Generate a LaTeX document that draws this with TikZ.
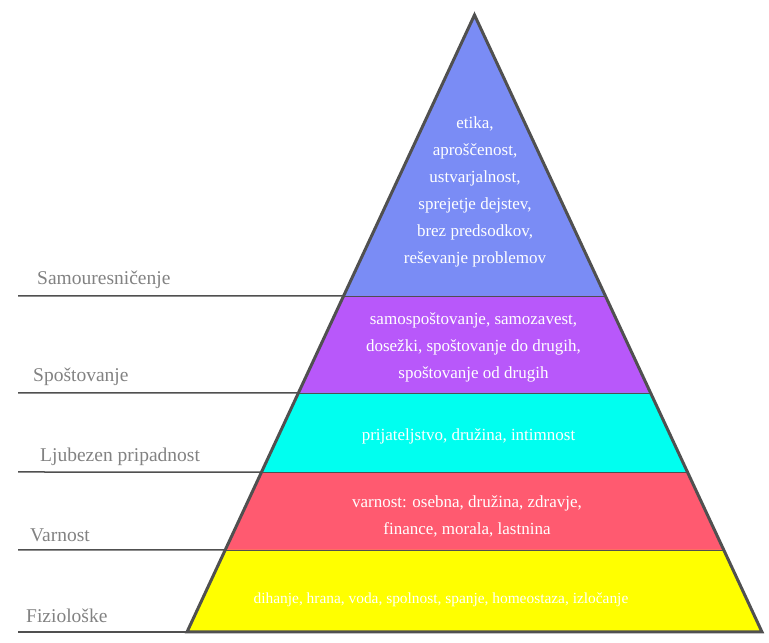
\documentclass[tikz,border=0pt]{standalone}
\usepackage{fontspec}
\setmainfont{Liberation Serif}
\usetikzlibrary{calc}
\definecolor{cblue}{RGB}{122,140,245}
\definecolor{cpurple}{RGB}{184,88,250}
\definecolor{ccyan}{RGB}{0,255,240}
\definecolor{cred}{RGB}{255,90,112}
\definecolor{cyellow}{RGB}{255,255,0}
\definecolor{cedge}{RGB}{80,80,80}
\definecolor{clabel}{RGB}{130,130,130}
\tikzset{
  inner/.style={text=white, align=center, inner sep=0pt, font=\fontsize{17}{27}\selectfont},
  lvl/.style={text=clabel, anchor=base west, inner sep=0pt, font=\fontsize{19.5}{22}\selectfont},
  guide/.style={draw=cedge, line width=1.5pt},
  seam/.style={draw=cedge, line width=0.8pt},
  outline/.style={draw=cedge, line width=3pt, line join=miter}
}
\begin{document}
\begin{tikzpicture}[x=1pt,y=1pt]
\useasboundingbox (0,0) rectangle (769,643);
% apex and base (y measured upward: 643 - image y)
\coordinate (apex) at (474.5,628);
\coordinate (bl) at (187,11);
\coordinate (br) at (762,11);
\coordinate (l1) at ($(apex)!0.4554!(bl)$); \coordinate (r1) at ($(apex)!0.4554!(br)$);
\coordinate (l2) at ($(apex)!0.6126!(bl)$); \coordinate (r2) at ($(apex)!0.6126!(br)$);
\coordinate (l3) at ($(apex)!0.7407!(bl)$); \coordinate (r3) at ($(apex)!0.7407!(br)$);
\coordinate (l4) at ($(apex)!0.8671!(bl)$); \coordinate (r4) at ($(apex)!0.8671!(br)$);
% layers
\fill[cblue] (apex) -- (l1) -- (r1) -- cycle;
\fill[cpurple] (l1) -- (l2) -- (r2) -- (r1) -- cycle;
\fill[ccyan] (l2) -- (l3) -- (r3) -- (r2) -- cycle;
\fill[cred] (l3) -- (l4) -- (r4) -- (r3) -- cycle;
\fill[cyellow] (l4) -- (bl) -- (br) -- (r4) -- cycle;
% seams
\draw[seam] (l1) -- (r1);
\draw[seam] (l2) -- (r2);
\draw[seam] (l3) -- (r3);
\draw[seam] (l4) -- (r4);
% guide lines on the left
\coordinate (g1) at (18,347); \coordinate (g2) at (18,250);
\coordinate (g3) at (18,171); \coordinate (g4) at (18,93);
\coordinate (g5) at (18,11);
\draw[guide] (g1) -- (l1);
\draw[guide] (g2) -- (l2);
\draw[guide] (g3) -- (l3);
\draw[guide] (g4) -- (l4);
\draw[guide] (g5) -- (bl);
% outline
\draw[outline] (apex) -- (bl) -- (br) -- cycle;
% level names
\node[lvl] (n1) at (37,358) {Samouresničenje};
\node[lvl] (n2) at (33,261) {Spoštovanje};
\node[lvl] (n3) at (40,181) {Ljubezen pripadnost};
\node[lvl] (n4) at (30,101) {Varnost};
\node[lvl] (n5) at (26,20) {Fiziološke};
% contents
\node[inner] (t1) at (475,451) {etika,\\aproščenost,\\ustvarjalnost,\\sprejetje dejstev,\\brez predsodkov,\\reševanje problemov};
\node[inner] (t2) at (473.5,296) {samospoštovanje, samozavest,\\dosežki, spoštovanje do drugih,\\spoštovanje od drugih};
\node[inner] (t3) at (468.5,207) {prijateljstvo, družina, intimnost};
\node[inner] (t4) at (467,127) {varnost: osebna, družina, zdravje,\\finance, morala, lastnina};
\node[inner, font=\fontsize{15.4}{20}\selectfont] (t5) at (441,43) {dihanje, hrana, voda, spolnost, spanje, homeostaza, izločanje};
\end{tikzpicture}
\end{document}
